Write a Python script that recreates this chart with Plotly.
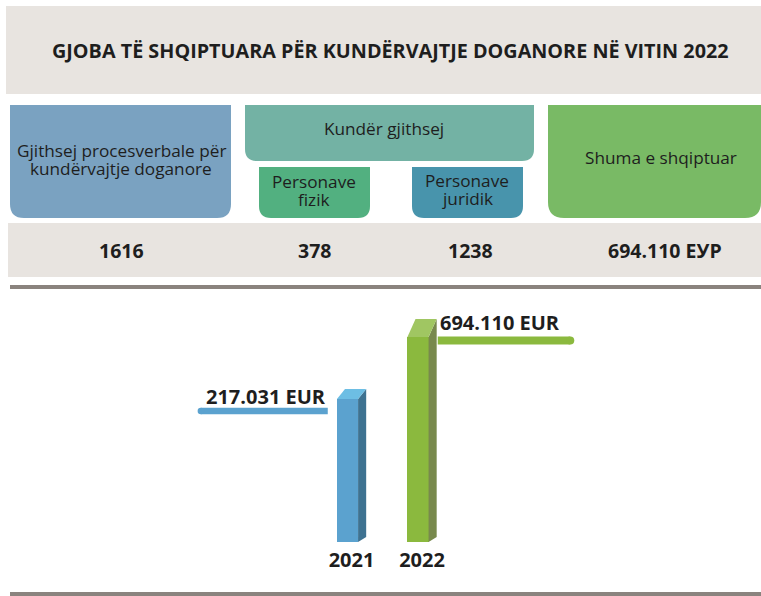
import math
import plotly.graph_objects as go

# ------------------------------------------------------------------ data
TITLE = "GJOBA TË SHQIPTUARA PËR KUNDËRVAJTJE DOGANORE NË VITIN 2022"
HEADER_LABELS = [
    "Gjithsej procesverbale për<br>kundërvajtje doganore",
    "Kundër gjithsej",
    "Personave<br>fizik",
    "Personave<br>juridik",
    "Shuma e shqiptuar",
]
SUMMARY_VALUES = ["1616", "378", "1238", "694.110 ЕУР"]
YEARS = ["2021", "2022"]
AMOUNTS_EUR = [217031, 694110]
AMOUNT_LABELS = ["217.031 EUR", "694.110 EUR"]

# ------------------------------------------------------------------ style / layout
W, H = 761, 596
FONT = "Open Sans"
TEXT = "#1e1e1e"
BG_GREY = "#e8e4e0"
RULE = "#8a837e"


def px(x):
    return x / W


def py(y):
    return 1 - y / H


def box_path(x0, y0, x1, y1, r):
    """rectangle with rounded bottom corners (pixel geometry -> paper)"""
    pts = [
        f"M {px(x0)} {py(y0)}",
        f"L {px(x1)} {py(y0)}",
        f"L {px(x1)} {py(y1 - r)}",
        f"Q {px(x1)} {py(y1)} {px(x1 - r)} {py(y1)}",
        f"L {px(x0 + r)} {py(y1)}",
        f"Q {px(x0)} {py(y1)} {px(x0)} {py(y1 - r)}",
        "Z",
    ]
    return " ".join(pts)


shapes = []
# title band, summary band, rules
shapes.append(dict(type="rect", xref="paper", yref="paper", x0=px(6), x1=px(761), y0=py(94), y1=py(6),
                   fillcolor=BG_GREY, line_width=0, layer="below"))
shapes.append(dict(type="rect", xref="paper", yref="paper", x0=px(8), x1=px(761), y0=py(277), y1=py(223),
                   fillcolor=BG_GREY, line_width=0, layer="below"))
shapes.append(dict(type="rect", xref="paper", yref="paper", x0=px(10), x1=px(761), y0=py(289), y1=py(285),
                   fillcolor=RULE, line_width=0, layer="below"))
shapes.append(dict(type="rect", xref="paper", yref="paper", x0=px(10), x1=px(761), y0=py(596), y1=py(592),
                   fillcolor=RULE, line_width=0, layer="below"))

# header boxes: (x0, y0, x1, y1, radius, colour)
HEADER_BOXES = [
    (10, 105, 231, 218, 14, "#7aa2c1"),
    (245, 105, 534, 161, 12, "#73b2a4"),
    (259, 167, 370, 218, 12, "#52b080"),
    (412, 167, 523, 218, 12, "#4894ac"),
    (548, 105, 761, 218, 16, "#79ba65"),
]
for (x0, y0, x1, y1, r, c) in HEADER_BOXES:
    shapes.append(dict(type="path", xref="paper", yref="paper", path=box_path(x0, y0, x1, y1, r),
                       fillcolor=c, line_width=0, layer="below"))

annotations = []
annotations.append(dict(text=f"<b>{TITLE}</b>", xref="paper", yref="paper", x=px(390), y=py(50),
                        xanchor="center", yanchor="middle", showarrow=False,
                        font=dict(family=FONT, size=19.8, color=TEXT)))

HEADER_TEXT_POS = [(121, 150), (384, 129), (314, 182), (467, 181), (661, 157)]
LINE_GAP = 18
for label, (cx, cy) in zip(HEADER_LABELS, HEADER_TEXT_POS):
    lines = label.split("<br>")
    for i, ln in enumerate(lines):
        annotations.append(dict(text=ln, xref="paper", yref="paper", x=px(cx), y=py(cy + i * LINE_GAP),
                                xanchor="center", yanchor="middle", showarrow=False, borderpad=0,
                                font=dict(family=FONT, size=17.2, color=TEXT)))

SUMMARY_POS = [121, 314, 470, 665]
for val, cx in zip(SUMMARY_VALUES, SUMMARY_POS):
    annotations.append(dict(text=f"<b>{val}</b>", xref="paper", yref="paper", x=px(cx), y=py(250),
                            xanchor="center", yanchor="middle", showarrow=False,
                            font=dict(family=FONT, size=19.5, color=TEXT)))

# ------------------------------------------------------------------ bottom 3D bar chart
FRONT = ["#5ba2cf", "#8bb93e"]
SIDE = ["#3e7291", "#78894d"]
CAP = ["#6dbee4", "#a0c662"]
LEADER = ["#5ba2cf", "#8bb93e"]

PLOT_TOP_PX, PLOT_BOT_PX = 300, 542
LOG_LO = 4.172
PX_PER_DECADE = 122.8
LOG_HI = LOG_LO + (PLOT_BOT_PX - PLOT_TOP_PX) / PX_PER_DECADE
UNIT_PX = 70.5
X0_PX = 347.5
XR = [-X0_PX / UNIT_PX, (W - X0_PX) / UNIT_PX]

BAR_W = 0.30
DEPTH = 0.115
CAP_RISE_PX = [10, 18]
FOOT_RISE_PX = 5
LEADER_SIDE = [-1, 1]
LEADER_GAP = 0.28
LEADER_LEN = [1.8, 1.88]
LEADER_W = [6.5, 8]
LEADER_DROP_PX = [12, 3.5]
LABEL_SHIFT = [-1, 2]


def lift(v, pxs):
    return v * 10 ** (pxs / PX_PER_DECADE)


floor = 10 ** LOG_LO
xs = list(range(len(YEARS)))

fig = go.Figure()
fig.add_trace(go.Bar(x=xs, y=AMOUNTS_EUR, width=BAR_W, marker=dict(color=FRONT, line_width=0),
                     hoverinfo="skip", showlegend=False))

for i, (x, v) in enumerate(zip(xs, AMOUNTS_EUR)):
    xl, xr = x - BAR_W / 2, x + BAR_W / 2
    top = lift(v, CAP_RISE_PX[i])
    # side face
    fig.add_trace(go.Scatter(x=[xr, xr + DEPTH, xr + DEPTH, xr, xr],
                             y=[v, top, lift(floor, FOOT_RISE_PX), floor, v],
                             mode="lines", fill="toself", fillcolor=SIDE[i], line=dict(width=0),
                             hoverinfo="skip", showlegend=False))
    # top cap
    fig.add_trace(go.Scatter(x=[xl, xl + DEPTH, xr + DEPTH, xr, xl],
                             y=[v, top, top, v, v],
                             mode="lines", fill="toself", fillcolor=CAP[i], line=dict(width=0),
                             hoverinfo="skip", showlegend=False))
    # leader line
    s = LEADER_SIDE[i]
    ly = lift(v, -LEADER_DROP_PX[i])
    x_in = x + s * LEADER_GAP
    x_out = x + s * (LEADER_GAP + LEADER_LEN[i])
    fig.add_trace(go.Scatter(x=[x_in, x_out], y=[ly, ly], mode="lines",
                             line=dict(color=LEADER[i], width=LEADER_W[i]), hoverinfo="skip",
                             showlegend=False))
    fig.add_trace(go.Scatter(x=[x_out], y=[ly], mode="markers",
                             marker=dict(color=LEADER[i], size=LEADER_W[i], line_width=0),
                             hoverinfo="skip", showlegend=False))
    annotations.append(dict(text=f"<b>{AMOUNT_LABELS[i]}</b>", xref="x", yref="y",
                            x=x_in, y=math.log10(ly), xanchor="right" if s < 0 else "left",
                            yanchor="bottom", yshift=LABEL_SHIFT[i], showarrow=False,
                            font=dict(family=FONT, size=20, color=TEXT)))

fig.update_layout(
    width=W, height=H, margin=dict(l=0, r=0, t=0, b=0),
    paper_bgcolor="white", plot_bgcolor="white",
    shapes=shapes, annotations=annotations, showlegend=False,
    bargap=0,
    xaxis=dict(domain=[0, 1], range=XR, showgrid=False, zeroline=False, showline=False,
               tickvals=[x + DEPTH / 2 for x in xs], ticktext=YEARS, ticks="",
               ticklabelstandoff=4,
               tickfont=dict(family=FONT, size=20, color=TEXT, weight="bold")),
    yaxis=dict(domain=[py(PLOT_BOT_PX), py(PLOT_TOP_PX)], type="log", range=[LOG_LO, LOG_HI],
               visible=False),
)

fig.write_html("out.html", config={"displayModeBar": False},
               post_script="document.body.style.margin='0';document.body.style.overflow='hidden';")
